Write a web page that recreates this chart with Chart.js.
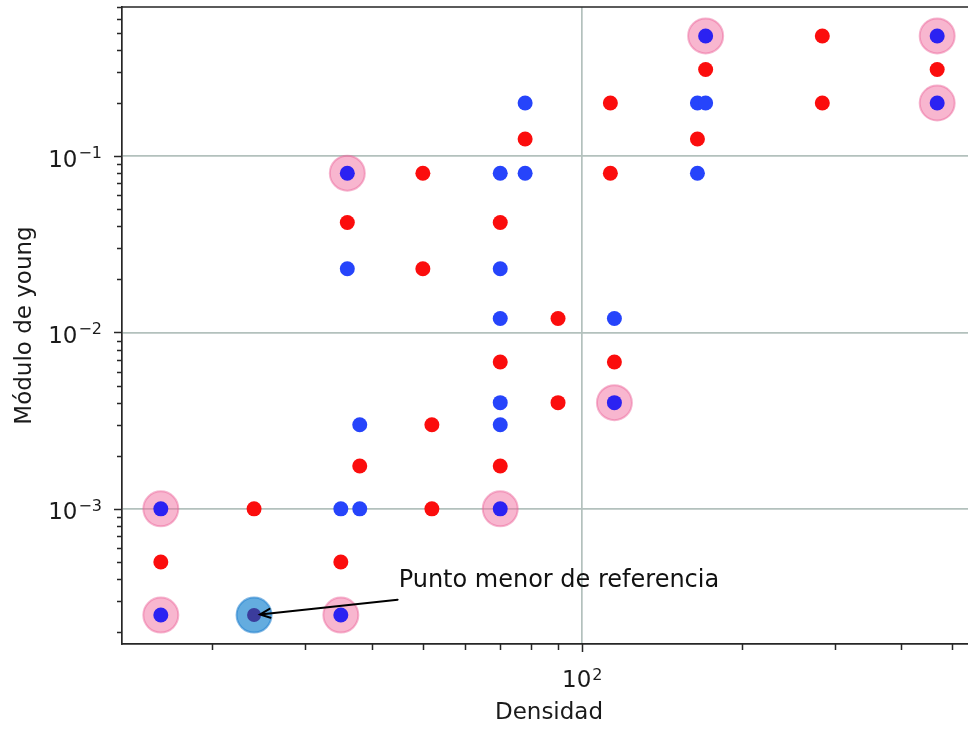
<!DOCTYPE html>
<html>
<head>
<meta charset="utf-8">
<script src="https://cdn.jsdelivr.net/npm/chart.js@4.4.1/dist/chart.umd.min.js"></script>
<style>
  html, body { margin: 0; padding: 0; background: #ffffff; width: 968px; height: 730px; overflow: hidden; }
  #wrap { position: absolute; left: 0; top: 0; width: 990px; height: 730px; }
</style>
</head>
<body>
<div id="wrap"><canvas id="chart" width="990" height="730"></canvas></div>
<script>
// Densidad vs. módulo de Young (log-log)
const redDensity = [16, 24, 35, 36, 38, 50, 50, 52, 52, 70, 70, 70, 78, 90, 90, 113, 113, 115, 165, 171, 284, 284, 468];
const redYoung   = [0.0005, 0.001, 0.0005, 0.042, 0.00175, 0.08, 0.023, 0.003, 0.001, 0.042, 0.0068, 0.00175, 0.125, 0.012, 0.004, 0.2, 0.08, 0.0068, 0.125, 0.31, 0.48, 0.2, 0.31];

const blueDensity = [35, 36, 38, 38, 70, 70, 70, 70, 70, 78, 78, 115, 165, 171, 165];
const blueYoung   = [0.001, 0.023, 0.003, 0.001, 0.08, 0.023, 0.012, 0.004, 0.003, 0.2, 0.08, 0.012, 0.2, 0.2, 0.08];

const markedDensity = [16, 16, 35, 36, 70, 115, 171, 468, 468];
const markedYoung   = [0.001, 0.00025, 0.00025, 0.08, 0.001, 0.004, 0.48, 0.48, 0.2];

const referenceDensity = [24];
const referenceYoung   = [0.00025];

const annotationText = 'Punto menor de referencia';
const annotationAt = [45, 3.62e-4];

const xTitle = 'Densidad';
const yTitle = 'Módulo de young';

const FONT = "'DejaVu Sans', 'Liberation Sans', sans-serif";
const INK = '#1a1a1a';
const GRID = '#b3c1bd';
const SPINE = '#262626';

// plot frame inside the canvas (the right spine falls past the visible page)
const FRAME = { left: 122, top: 7, right: 976, bottom: 644 };

const pts = (xs, ys) => xs.map((x, i) => ({ x, y: ys[i] }));

// axis limits with a 5% margin in log space
function logLimits(values) {
  const lo = Math.log10(Math.min(...values));
  const hi = Math.log10(Math.max(...values));
  const m = (hi - lo) * 0.05;
  return [Math.pow(10, lo - m), Math.pow(10, hi + m)];
}
const allX = [...redDensity, ...blueDensity, ...markedDensity, ...referenceDensity];
const allY = [...redYoung, ...blueYoung, ...markedYoung, ...referenceYoung];
const [xMin, xMax] = logLimits(allX);
const [yMin, yMax] = logLimits(allY);

function logTicks(min, max) {
  const out = [];
  for (let e = Math.floor(Math.log10(min)); e <= Math.ceil(Math.log10(max)); e++) {
    for (let m = 1; m < 10; m++) {
      const v = parseFloat((m * Math.pow(10, e)).toPrecision(6));
      if (v >= min && v <= max) out.push({ value: v, major: m === 1 });
    }
  }
  return out;
}

const exponentText = v => String(Math.round(Math.log10(v))).replace('-', '\u2212');

// draws "10" with a raised exponent; anchor is 'right' or 'center'
function drawPower(ctx, v, x, baseline, anchor, raise) {
  const baseFont = '23px ' + FONT;
  const expFont = '16px ' + FONT;
  const exp = exponentText(v);
  ctx.font = baseFont;
  const wb = ctx.measureText('10').width;
  ctx.font = expFont;
  const we = ctx.measureText(exp).width;
  const total = wb + 1 + we;
  const left = anchor === 'right' ? x - total : x - total / 2;
  ctx.font = baseFont;
  ctx.fillText('10', left, baseline);
  ctx.font = expFont;
  ctx.fillText(exp, left + wb + 1, baseline - raise);
}

// top / right spines, tick marks and power-of-ten tick labels
const framePlugin = {
  id: 'frame',
  afterDraw(chart) {
    const { ctx, chartArea: a, scales } = chart;
    ctx.save();
    ctx.strokeStyle = SPINE;
    ctx.lineWidth = 1.7;
    ctx.beginPath();
    ctx.moveTo(a.left, a.top); ctx.lineTo(a.right, a.top); ctx.lineTo(a.right, a.bottom);
    ctx.stroke();
    ctx.lineWidth = 1.5;
    ctx.beginPath();
    scales.x.ticks.forEach(t => {
      const px = Math.round(scales.x.getPixelForValue(t.value)) + 0.5;
      ctx.moveTo(px, a.bottom); ctx.lineTo(px, a.bottom + (t.major ? 8 : 6));
    });
    scales.y.ticks.forEach(t => {
      const py = Math.round(scales.y.getPixelForValue(t.value)) + 0.5;
      ctx.moveTo(a.left, py); ctx.lineTo(a.left - (t.major ? 8 : 5), py);
    });
    ctx.stroke();

    ctx.fillStyle = INK;
    ctx.textBaseline = 'alphabetic';
    ctx.textAlign = 'left';
    scales.x.ticks.filter(t => t.major).forEach(t => {
      const px = scales.x.getPixelForValue(t.value);
      drawPower(ctx, t.value, px, a.bottom + 43, 'center', 7);
    });
    scales.y.ticks.filter(t => t.major).forEach(t => {
      const py = scales.y.getPixelForValue(t.value);
      drawPower(ctx, t.value, a.left - 20, py + 10.5, 'right', 8.5);
    });
    ctx.restore();
  }
};

// text label with an arrow pointing to the reference point
const annotationPlugin = {
  id: 'annot',
  afterDatasetsDraw(chart) {
    const { ctx, scales } = chart;
    const tx = scales.x.getPixelForValue(annotationAt[0]);
    const ty = scales.y.getPixelForValue(annotationAt[1]);
    ctx.save();
    ctx.font = '24px ' + FONT;
    ctx.fillStyle = '#111111';
    ctx.textAlign = 'left';
    ctx.textBaseline = 'alphabetic';
    ctx.fillText(annotationText, tx, ty);

    const px = scales.x.getPixelForValue(referenceDensity[0]);
    const py = scales.y.getPixelForValue(referenceYoung[0]);
    const sx = tx - 1, sy = ty + 13;
    const dx = sx - px, dy = sy - py;
    const len = Math.hypot(dx, dy);
    const ux = dx / len, uy = dy / len;
    const ex = px + ux * 6, ey = py + uy * 6;
    ctx.strokeStyle = '#000000';
    ctx.lineWidth = 2;
    ctx.lineCap = 'round';
    ctx.beginPath();
    ctx.moveTo(sx, sy); ctx.lineTo(ex, ey);
    const ang = Math.atan2(uy, ux);
    const hl = 11, ha = 0.42;
    ctx.moveTo(ex + hl * Math.cos(ang + ha), ey + hl * Math.sin(ang + ha));
    ctx.lineTo(ex, ey);
    ctx.lineTo(ex + hl * Math.cos(ang - ha), ey + hl * Math.sin(ang - ha));
    ctx.stroke();
    ctx.restore();
  }
};

const titleFont = { family: FONT, size: 23 };

new Chart(document.getElementById('chart'), {
  type: 'scatter',
  data: {
    datasets: [
      { label: 'referencia', data: pts(referenceDensity, referenceYoung), order: 0,
        pointRadius: 7, backgroundColor: '#3b3c9c', borderWidth: 0 },
      { label: 'referencia (marca)', data: pts(referenceDensity, referenceYoung), order: 1,
        pointRadius: 17.5, backgroundColor: 'rgba(40,140,210,0.72)', borderColor: 'rgba(30,125,205,0.55)', borderWidth: 2 },
      { label: 'destacados', data: pts(markedDensity, markedYoung), order: 2,
        pointRadius: 7.5, backgroundColor: '#2b22f2', borderWidth: 0 },
      { label: 'azul', data: pts(blueDensity, blueYoung), order: 3,
        pointRadius: 7.5, backgroundColor: '#2644fb', borderWidth: 0 },
      { label: 'rojo', data: pts(redDensity, redYoung), order: 4,
        pointRadius: 7.5, backgroundColor: '#fb0d0d', borderWidth: 0 },
      { label: 'destacados (marca)', data: pts(markedDensity, markedYoung), order: 5,
        pointRadius: 17.5, backgroundColor: 'rgba(242,110,160,0.5)', borderColor: 'rgba(235,95,150,0.45)', borderWidth: 2 }
    ]
  },
  options: {
    responsive: false,
    animation: false,
    events: [],
    layout: { autoPadding: false, padding: { left: 0, top: FRAME.top, right: 990 - FRAME.right, bottom: 0 } },
    plugins: { legend: { display: false }, tooltip: { enabled: false } },
    scales: {
      x: {
        type: 'logarithmic',
        min: xMin, max: xMax,
        afterBuildTicks: s => { s.ticks = logTicks(s.min, s.max); },
        afterFit: s => { s.height = 730 - FRAME.bottom; },
        ticks: { display: false, autoSkip: false },
        grid: {
          drawTicks: false, lineWidth: 1.7,
          color: c => (c.tick && c.tick.major ? GRID : 'rgba(0,0,0,0)')
        },
        border: { display: true, color: SPINE, width: 1.7 },
        title: { display: true, text: xTitle, color: INK, font: titleFont, padding: { top: 0, bottom: 3 } }
      },
      y: {
        type: 'logarithmic',
        min: yMin, max: yMax,
        afterBuildTicks: s => { s.ticks = logTicks(s.min, s.max); },
        afterFit: s => { s.width = FRAME.left; },
        ticks: { display: false, autoSkip: false },
        grid: {
          drawTicks: false, lineWidth: 1.7,
          color: c => (c.tick && c.tick.major ? GRID : 'rgba(0,0,0,0)')
        },
        border: { display: true, color: SPINE, width: 1.7 },
        title: { display: true, text: yTitle, color: INK, font: titleFont, padding: { top: 11, bottom: 0 } }
      }
    }
  },
  plugins: [framePlugin, annotationPlugin]
});
</script>
</body>
</html>
